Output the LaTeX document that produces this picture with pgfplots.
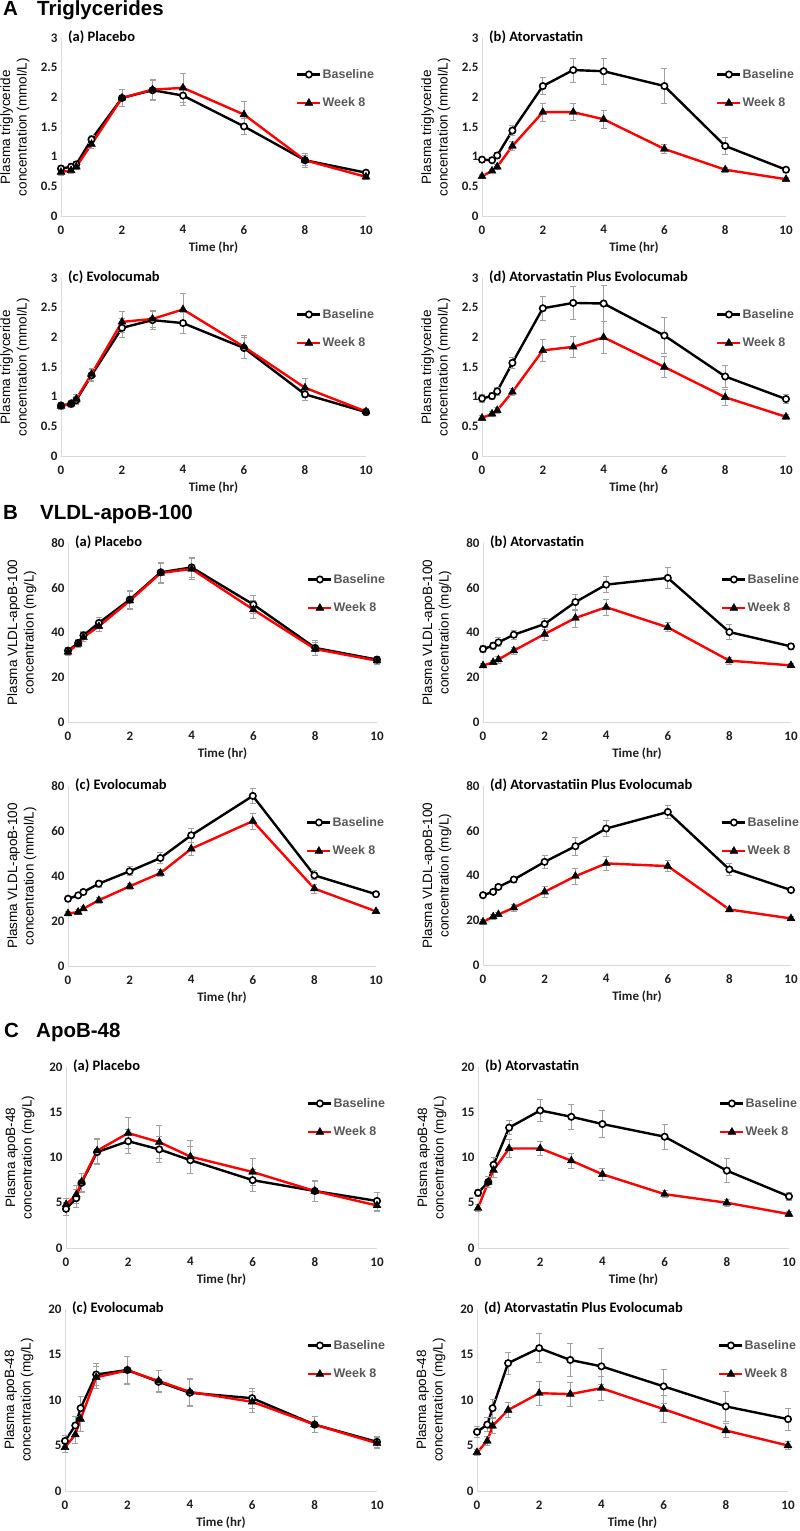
\documentclass[border=0pt]{standalone}
\usepackage{fontspec}
\setmainfont{Carlito}
\newfontfamily\arialfont{Liberation Sans}
\usepackage{pgfplots}
\usepackage{pgfplotstable}
\pgfplotsset{compat=1.18}
\definecolor{axgray}{RGB}{217,217,217}
\definecolor{errgray}{RGB}{160,160,160}
\definecolor{leggray}{RGB}{89,89,89}
\definecolor{tickcol}{RGB}{30,30,30}
\definecolor{serred}{RGB}{255,0,0}
\newcommand\tickfont{\bfseries\fontsize{13}{14}\selectfont}
\newcommand\ptitlefont{\bfseries\fontsize{14.5}{16}\selectfont}
\newcommand\ylabfont{\arialfont\fontsize{13.5}{16.5}\selectfont}
\newcommand\legfont{\arialfont\bfseries\fontsize{12.5}{14}\selectfont}
\newcommand\secfont{\arialfont\bfseries\fontsize{20.5}{22}\selectfont}

\pgfplotstableread{
t b be w we
0 0.80 0.05 0.74 0.05
0.33 0.83 0.05 0.77 0.05
0.5 0.87 0.05 0.83 0.05
1 1.29 0.07 1.21 0.07
2 1.99 0.14 1.99 0.14
3 2.12 0.17 2.13 0.17
4 2.03 0.16 2.16 0.24
6 1.51 0.14 1.71 0.22
8 0.94 0.08 0.94 0.12
10 0.73 0.04 0.66 0.04
}\TAa
\pgfplotstableread{
t b be w we
0 0.95 0.04 0.67 0.03
0.33 0.94 0.04 0.76 0.03
0.5 1.02 0.05 0.83 0.04
1 1.44 0.08 1.18 0.08
2 2.19 0.14 1.75 0.15
3 2.46 0.20 1.75 0.14
4 2.44 0.22 1.63 0.15
6 2.19 0.29 1.13 0.08
8 1.18 0.15 0.78 0.04
10 0.78 0.04 0.62 0.03
}\TAb
\pgfplotstableread{
t b be w we
0 0.85 0.06 0.84 0.06
0.33 0.88 0.06 0.88 0.06
0.5 0.94 0.07 0.96 0.07
1 1.36 0.10 1.38 0.10
2 2.16 0.16 2.26 0.18
3 2.29 0.15 2.31 0.15
4 2.24 0.18 2.47 0.27
6 1.82 0.18 1.84 0.20
8 1.04 0.10 1.15 0.16
10 0.74 0.05 0.75 0.05
}\TAc
\pgfplotstableread{
t b be w we
0 0.97 0.07 0.64 0.04
0.33 1.01 0.06 0.71 0.04
0.5 1.09 0.07 0.77 0.05
1 1.57 0.10 1.08 0.06
2 2.49 0.20 1.78 0.18
3 2.58 0.28 1.84 0.18
4 2.57 0.30 2.00 0.27
6 2.03 0.30 1.50 0.18
8 1.34 0.18 0.99 0.14
10 0.96 0.08 0.66 0.04
}\TAd
\pgfplotstableread{
t b be w we
0 31.9 1.5 31.3 1.5
0.33 35.3 1.5 34.9 1.5
0.5 38.7 2.0 37.9 2.0
1 44.3 2.5 42.8 2.5
2 54.7 4.0 54.2 4.0
3 66.9 4.5 66.6 4.5
4 69.1 4.5 68.4 4.5
6 52.5 4.0 50.2 4.0
8 33.1 3.5 32.6 3.0
10 27.9 1.5 27.4 1.5
}\TBa
\pgfplotstableread{
t b be w we
0 32.6 1.5 25.2 1.0
0.33 34.1 1.5 26.7 1.0
0.5 35.6 2.0 27.9 1.5
1 39.0 2.0 31.9 1.5
2 43.8 2.5 39.3 3.0
3 53.6 3.5 46.5 4.0
4 61.4 3.5 51.3 3.5
6 64.4 4.5 42.3 2.0
8 40.2 3.5 27.4 1.5
10 33.8 1.5 25.3 1.0
}\TBb
\pgfplotstableread{
t b be w we
0 29.9 1.0 23.3 1.0
0.33 31.4 1.0 24.0 1.0
0.5 32.9 1.0 25.5 1.0
1 36.6 1.5 29.2 1.5
2 42.1 2.0 35.4 1.5
3 48.0 2.5 41.3 1.5
4 58.1 3.0 52.1 3.0
6 75.6 3.5 64.4 3.5
8 40.3 2.0 34.4 2.0
10 31.9 1.0 24.3 1.0
}\TBc
\pgfplotstableread{
t b be w we
0 31.2 1.0 19.3 1.0
0.33 32.7 1.0 21.6 1.0
0.5 34.9 1.0 22.6 1.0
1 38.2 1.5 25.6 1.5
2 46.1 3.0 32.7 2.5
3 53.1 4.0 39.7 3.5
4 61.0 3.5 45.4 3.0
6 68.4 3.0 44.2 2.5
8 42.7 2.5 24.8 1.0
10 33.5 1.0 20.8 1.0
}\TBd
\pgfplotstableread{
t b be w we
0 4.33 0.7 4.8 0.7
0.33 5.5 1.0 5.9 1.0
0.5 7.2 1.0 7.3 1.0
1 10.6 1.4 10.75 1.4
2 11.8 1.3 12.7 1.7
3 10.9 1.4 11.7 1.8
4 9.7 1.5 10.1 1.8
6 7.5 1.2 8.4 1.5
8 6.3 1.1 6.3 1.2
10 5.2 1.0 4.7 0.6
}\TCa
\pgfplotstableread{
t b be w we
0 6.1 0.4 4.4 0.4
0.33 7.3 0.6 7.3 0.6
0.5 9.2 0.8 8.6 0.8
1 13.3 0.8 11.0 1.0
2 15.2 1.2 11.0 0.8
3 14.5 1.4 9.65 0.8
4 13.7 1.5 8.15 0.7
6 12.3 1.4 5.95 0.4
8 8.55 1.3 5.0 0.4
10 5.7 0.4 3.75 0.3
}\TCb
\pgfplotstableread{
t b be w we
0 5.5 0.6 4.8 0.6
0.33 7.2 1.0 6.2 1.0
0.5 9.1 1.3 7.9 1.3
1 12.8 1.2 12.5 1.2
2 13.3 1.5 13.25 1.5
3 12.0 1.2 12.1 1.2
4 10.8 1.5 10.9 1.5
6 10.2 1.1 9.8 1.2
8 7.3 0.9 7.3 0.9
10 5.4 0.6 5.25 0.6
}\TCc
\pgfplotstableread{
t b be w we
0 6.5 0.6 4.25 0.3
0.33 7.3 0.8 5.5 0.5
0.5 9.1 1.0 7.15 0.8
1 14.05 1.2 8.9 0.8
2 15.7 1.6 10.75 1.3
3 14.4 1.8 10.65 1.3
4 13.7 2.0 11.3 1.3
6 11.5 1.9 9.0 1.5
8 9.3 1.6 6.65 0.8
10 7.9 1.2 5.0 0.4
}\TCd

\pgfplotsset{
  panel/.style={
    scale only axis, anchor=north west, clip=false,
    xmin=0, xmax=10, xtick={0,2,4,6,8,10},
    axis x line*=bottom, axis y line*=left,
    axis line style={draw=axgray, line width=0.9pt},
    major tick length=0pt,
    tick label style={font=\tickfont, text=tickcol},
    /pgf/number format/assume math mode=true,
    xticklabel style={yshift=-6pt},
    xlabel={Time (hr)},
    xlabel style={font=\tickfont, text=tickcol, at={(axis description cs:0.5,0)}, anchor=center, yshift=-32pt},
    ylabel style={font=\ylabfont, align=center, at={([xshift=-28pt]axis description cs:0,0.5)}, anchor=south},
    title style={font=\ptitlefont, at={(axis description cs:0,1)}, anchor=base west, inner sep=0pt, xshift=7pt, yshift=-9pt},
    legend style={draw=none, fill=none, at={([xshift=-70pt,yshift=-30pt]rel axis cs:1,1)}, anchor=north west, font=\legfont, text=leggray, row sep=16pt, inner sep=0pt, nodes={inner sep=1pt}},
    legend cell align=left,
    legend image code/.code={\draw[mark repeat=2, mark phase=2, #1] plot coordinates {(0pt,0pt) (11.5pt,0pt) (23pt,0pt)};},
  },
  base/.style={black, line width=2.4pt, mark=*, mark size=3.2pt, mark options={fill=white, draw=black, line width=1.6pt},
    error bars/.cd, y dir=both, y explicit, error bar style={draw=errgray, line width=0.8pt}, error mark options={rotate=90, mark size=3pt, draw=errgray, line width=0.8pt}},
  wk/.style={serred, line width=2.4pt, mark=triangle*, mark size=4.6pt, mark options={fill=black, draw=black, line width=0.4pt},
    error bars/.cd, y dir=both, y explicit, error bar style={draw=errgray, line width=0.8pt}, error mark options={rotate=90, mark size=3pt, draw=errgray, line width=0.8pt}},
  secA/.style={ymin=0, ymax=3, ytick={0,0.5,1,1.5,2,2.5,3}, ylabel={Plasma triglyceride\\concentration (mmol/L)}},
  secB/.style={ymin=0, ymax=80, ytick={0,20,40,60,80}, ylabel={Plasma VLDL-apoB-100\\concentration (mg/L)}},
  secC/.style={ymin=0, ymax=20, ytick={0,5,10,15,20}, ylabel={Plasma apoB-48\\concentration (mg/L)}},
}
\newcommand\twoplots[1]{%
  \addplot[base] table[x=t, y=b, y error=be] {#1};
  \addlegendentry{Baseline}
  \addplot[wk] table[x=t, y=w, y error=we] {#1};
  \addlegendentry{Week 8}
}

\begin{document}
\begin{tikzpicture}
\useasboundingbox (0pt,0pt) rectangle (800pt,-1531pt);
\fill[white] (0pt,0pt) rectangle (800pt,-1531pt);

% Section titles
\node[font=\secfont, anchor=base west, inner sep=0pt] at (3pt,-15pt) {A};
\node[font=\secfont, anchor=base west, inner sep=0pt] at (37pt,-15pt) {Triglycerides};
\node[font=\secfont, anchor=base west, inner sep=0pt] at (3pt,-519pt) {B};
\node[font=\secfont, anchor=base west, inner sep=0pt] at (40pt,-519pt) {VLDL-apoB-100};
\node[font=\secfont, anchor=base west, inner sep=0pt] at (4pt,-1037pt) {C};
\node[font=\secfont, anchor=base west, inner sep=0pt] at (36pt,-1037pt) {ApoB-48};

% ---- A ----
\begin{axis}[panel, secA, at={(61pt,-38pt)}, width=305pt, height=178pt, title={(a) Placebo}]
\twoplots{\TAa}
\end{axis}
\begin{axis}[panel, secA, at={(482pt,-38pt)}, width=304pt, height=178pt, title={(b) Atorvastatin}]
\twoplots{\TAb}
\end{axis}
\begin{axis}[panel, secA, at={(61pt,-278pt)}, width=305pt, height=178pt, title={(c) Evolocumab}]
\twoplots{\TAc}
\end{axis}
\begin{axis}[panel, secA, at={(482pt,-278pt)}, width=304pt, height=178pt, title={(d) Atorvastatin Plus Evolocumab}]
\twoplots{\TAd}
\end{axis}

% ---- B ----
\begin{axis}[panel, secB, at={(68pt,-543pt)}, width=309pt, height=179pt, title={(a) Placebo}]
\twoplots{\TBa}
\end{axis}
\begin{axis}[panel, secB, at={(483pt,-543pt)}, width=308pt, height=179pt, title={(b) Atorvastatin}]
\twoplots{\TBb}
\end{axis}
\begin{axis}[panel, secB, at={(68pt,-786pt)}, width=308pt, height=180pt, title={(c) Evolocumab}, ylabel={Plasma VLDL-apoB-100\\concentration (mmol/L)}]
\twoplots{\TBc}
\end{axis}
\begin{axis}[panel, secB, at={(483pt,-786pt)}, width=308pt, height=179pt, title={(d) Atorvastatiin Plus Evolocumab}]
\twoplots{\TBd}
\end{axis}

% ---- C ----
\begin{axis}[panel, secC, at={(66pt,-1067pt)}, width=311pt, height=181pt, title={(a) Placebo}]
\twoplots{\TCa}
\end{axis}
\begin{axis}[panel, secC, at={(478pt,-1067pt)}, width=311pt, height=181pt, title={(b) Atorvastatin}]
\twoplots{\TCb}
\end{axis}
\begin{axis}[panel, secC, at={(65pt,-1309pt)}, width=312pt, height=182pt, title={(c) Evolocumab}]
\twoplots{\TCc}
\end{axis}
\begin{axis}[panel, secC, at={(477pt,-1309pt)}, width=311pt, height=182pt, title={(d) Atorvastatin Plus Evolocumab}]
\twoplots{\TCd}
\end{axis}
\end{tikzpicture}
\end{document}
